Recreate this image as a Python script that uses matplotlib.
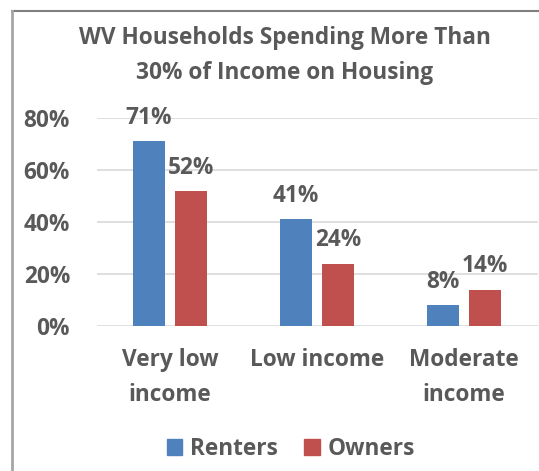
import matplotlib
matplotlib.use("Agg")
import matplotlib.pyplot as plt
import numpy as np
from matplotlib.lines import Line2D
from matplotlib.patches import Patch

categories = ["Very low\nincome", "Low income", "Moderate\nincome"]
renters = [71, 41, 8]
owners = [52, 24, 14]
series_names = ["Renters", "Owners"]
yticks = [0, 20, 40, 60, 80]

BLUE = "#4F81BD"
RED = "#C0504D"
TEXT = "#595959"
GRID = "#D9D9D9"

plt.rcParams["font.family"] = ["Open Sans", "DejaVu Sans"]
plt.rcParams["font.weight"] = "bold"

FS = 16.3

W, H = 539, 471
fig = plt.figure(figsize=(W / 100, H / 100), dpi=100)
ax = fig.add_axes([96.5 / W, (H - 326) / H, (537.5 - 96.5) / W, (326 - 118) / H])

x = np.arange(len(categories))
width = 0.218
off = 0.143
b1 = ax.bar(x - off, renters, width, color=BLUE, zorder=3)
b2 = ax.bar(x + off, owners, width, color=RED, zorder=3)

for bars, vals in ((b1, renters), (b2, owners)):
    for rect, v in zip(bars, vals):
        ax.annotate(f"{v}%", (rect.get_x() + rect.get_width() / 2, v),
                    xytext=(0, 8), textcoords="offset points",
                    ha="center", va="bottom", fontsize=FS, fontweight="bold",
                    color=TEXT, annotation_clip=False)

ax.set_xlim(-0.5, 2.5)
ax.set_ylim(0, 80)
ax.set_yticks(yticks)
ax.set_yticklabels([f"{t}%" for t in yticks])
ax.set_xticks(x)
ax.set_xticklabels(categories, linespacing=1.62)
ax.tick_params(axis="y", length=0, pad=19, labelsize=FS, labelcolor=TEXT)
ax.tick_params(axis="x", length=0, pad=15.5, labelsize=FS, labelcolor=TEXT)
for lbl in ax.get_xticklabels() + ax.get_yticklabels():
    lbl.set_fontweight("bold")
ax.grid(axis="y", color=GRID, linewidth=1.2, zorder=0)
for s in ax.spines.values():
    s.set_visible(False)

fig.text(285 / W, 1 - 55.5 / H, "WV Households Spending More Than\n30% of Income on Housing",
         ha="center", va="center", fontsize=FS, fontweight="bold", color=TEXT,
         linespacing=1.65)

handles = [Patch(color=BLUE), Patch(color=RED)]
fig.legend(handles, series_names, loc="center", bbox_to_anchor=(291 / W, 1 - 449 / H),
           ncol=2, frameon=False, handlelength=0.7, handleheight=0.7,
           handletextpad=0.35, columnspacing=1.15, labelcolor=TEXT,
           prop={"weight": "bold", "size": FS})

# frame lines along the top and left edges
fig.add_artist(Line2D([11.5 / W, 1], [1 - 10.5 / H, 1 - 10.5 / H], color="#808080", lw=1.5))
fig.add_artist(Line2D([11.5 / W, 11.5 / W], [0, 1 - 10.5 / H], color="#A6A6A6", lw=2))

fig.savefig("out.png", dpi=100)
